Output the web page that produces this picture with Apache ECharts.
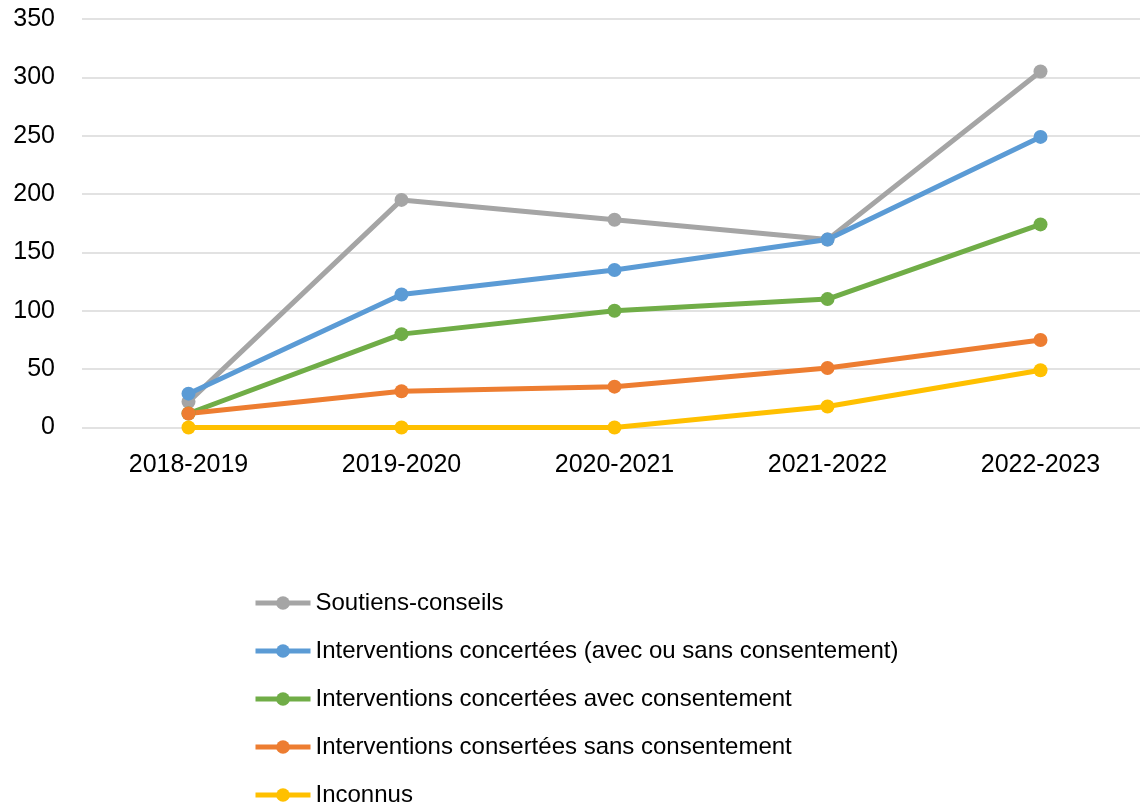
<!DOCTYPE html>
<html>
<head>
<meta charset="utf-8">
<script src="https://cdn.jsdelivr.net/npm/echarts@6/dist/echarts.min.js"></script>
<style>html,body{margin:0;padding:0;background:#fff}#c{width:1140px;height:808px}</style>
</head>
<body>
<div id="c"></div>
<script>
const categories = ['2018-2019', '2019-2020', '2020-2021', '2021-2022', '2022-2023'];
const seriesNames = ['Soutiens-conseils', 'Interventions concertées (avec ou sans consentement)', 'Interventions concertées avec consentement', 'Interventions consertées sans consentement', 'Inconnus'];
const soutiens = [22, 195, 178, 161, 305];
const concerteesTotal = [29, 114, 135, 161, 249];
const avecConsentement = [12, 80, 100, 110, 174];
const sansConsentement = [12, 31, 35, 51, 75];
const inconnus = [0, 0, 0, 18, 49];
const yTicks = [0, 50, 100, 150, 200, 250, 300, 350];
const colors = ['#A5A5A5', '#5B9BD5', '#70AD47', '#ED7D31', '#FFC000'];
const values = [soutiens, concerteesTotal, avecConsentement, sansConsentement, inconnus];

const font = 'Liberation Sans';
const chart = echarts.init(document.getElementById('c'));
chart.setOption({
  animation: false,
  textStyle: { fontFamily: font },
  grid: { left: 82, width: 1065, top: 19, height: 408.5, containLabel: false, outerBoundsMode: 'none' },
  legend: {
    orient: 'vertical', left: 253, top: 591, padding: 0,
    itemWidth: 55, itemHeight: 17, itemGap: 24,
    lineStyle: { width: 5 },
    textStyle: { fontFamily: font, fontSize: 24, color: '#000' },
    data: seriesNames
  },
  xAxis: {
    type: 'category', data: categories, boundaryGap: true,
    axisLine: { show: false }, axisTick: { show: false },
    axisLabel: { fontFamily: font, fontSize: 25, color: '#000', margin: 25 }
  },
  yAxis: {
    type: 'value', min: yTicks[0], max: yTicks[yTicks.length - 1], interval: 50,
    axisLine: { show: false }, axisTick: { show: false },
    axisLabel: { fontFamily: font, fontSize: 25, color: '#000', margin: 27 },
    splitLine: { lineStyle: { color: '#D9D9D9', width: 1.5 } }
  },
  series: values.map((v, i) => ({
    name: seriesNames[i], type: 'line', data: v,
    symbol: 'circle', symbolSize: 14,
    lineStyle: { color: colors[i], width: 5 },
    itemStyle: { color: colors[i] }
  }))
});
</script>
</body>
</html>
